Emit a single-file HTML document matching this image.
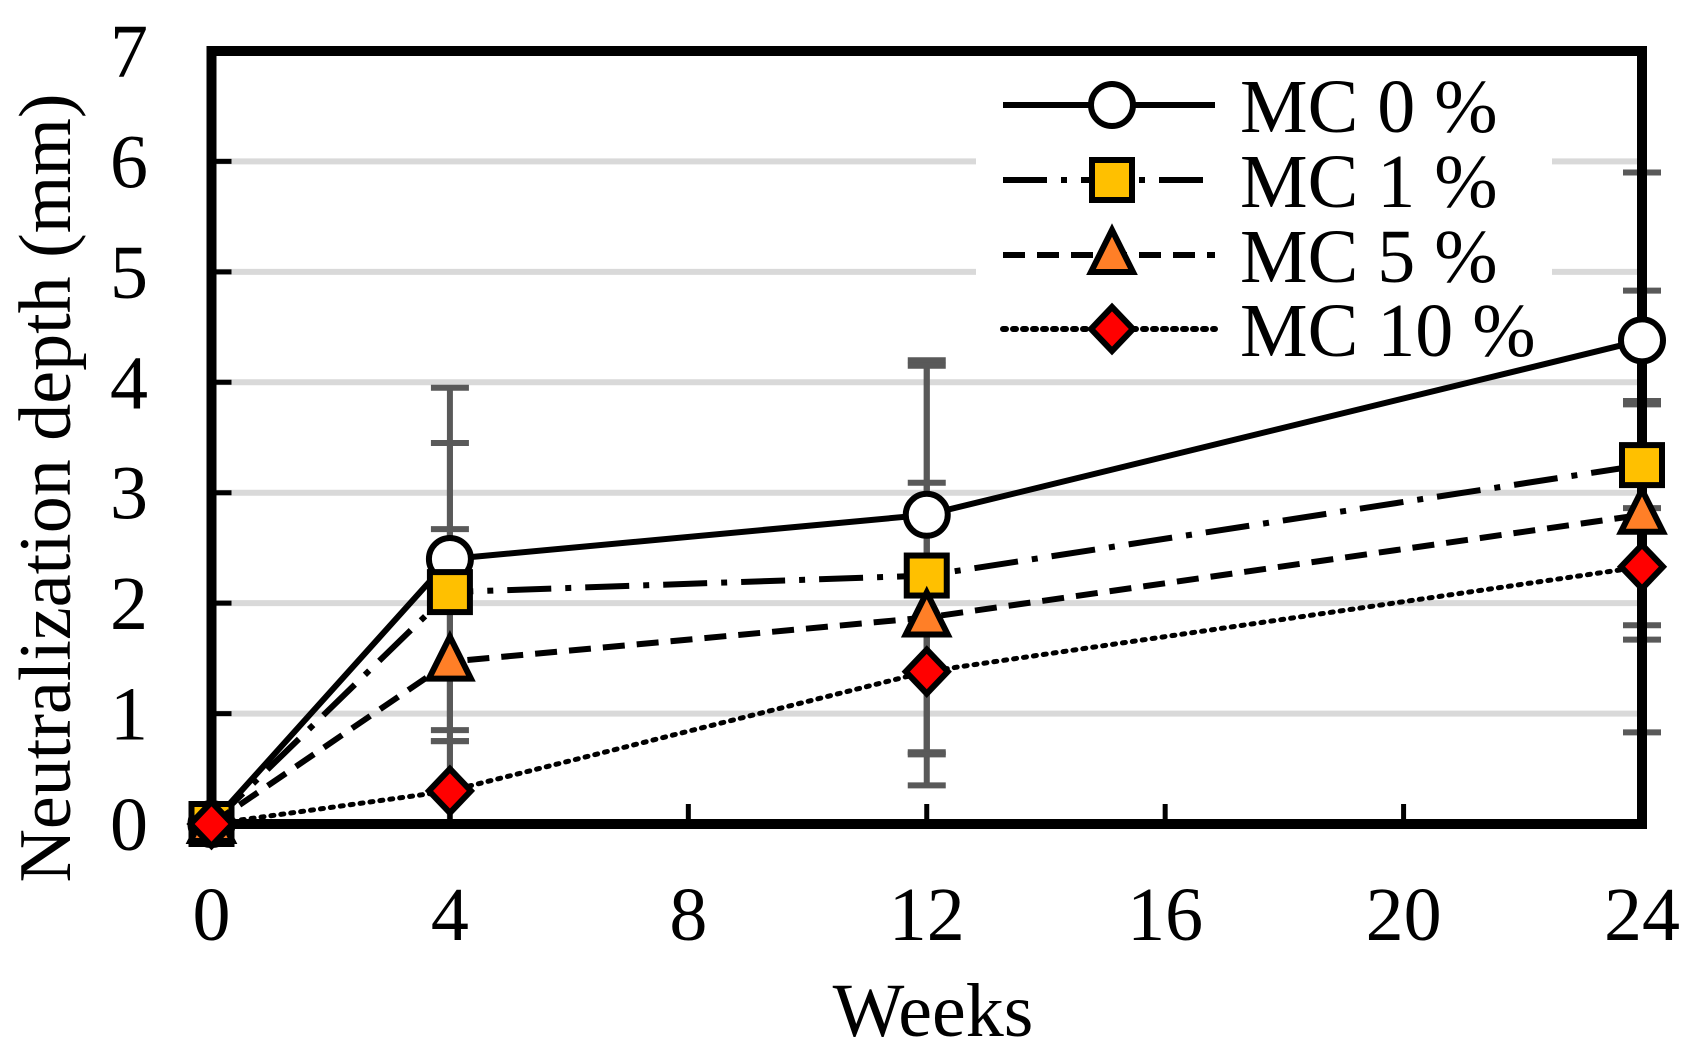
<!DOCTYPE html>
<html><head><meta charset="utf-8"><style>
html,body{margin:0;padding:0;background:#fff;}
svg{display:block;font-family:"Liberation Serif",serif;}
</style></head><body>
<svg id="chart" width="1692" height="1064" viewBox="0 0 1692 1064" xmlns="http://www.w3.org/2000/svg"></svg>
<script>
const weeks = [0, 4, 12, 24];
const seriesNames = ["MC 0 %", "MC 1 %", "MC 5 %", "MC 10 %"];
const mc0 = [0, 2.4, 2.8, 4.38];
const mc1 = [0, 2.1, 2.25, 3.25];
const mc5 = [0, 1.47, 1.87, 2.8];
const mc10 = [0, 0.3, 1.38, 2.33];
const err0 = [0, 1.55, 1.4, 1.52];
const err1 = [0, 1.35, 1.9, 1.58];
const err5 = [0, 1.2, 1.22, 1.0];
const err10 = [0, 0.45, 0.75, 1.5];
const xTicks = [0, 4, 8, 12, 16, 20, 24];
const yTicks = [0, 1, 2, 3, 4, 5, 6, 7];

const NS = "http://www.w3.org/2000/svg";
const svg = document.getElementById('chart');
const L = 211.5, R = 1642, T = 51, B = 824;
const xs = w => L + (w - 0) / 24 * (R - L);
const ys = v => B - v / 7 * (B - T);
function mk(tag, attrs, parent) {
  const e = document.createElementNS(NS, tag);
  for (const k in attrs) e.setAttribute(k, attrs[k]);
  (parent || svg).appendChild(e);
  return e;
}
yTicks.forEach(v => {
  if (v === 0 || v === 7) return;
  const g = mk('line', {x1: L, x2: R, y1: ys(v), y2: ys(v), stroke: '#d9d9d9', 'stroke-width': 6});
  
  
});
const lb = mk('rect', {x: 976, y: 62, width: 576, height: 300, fill: '#fff'});


const allVals = [mc0, mc1, mc5, mc10];
const allErr = [err0, err1, err5, err10];
allVals.forEach((vals, s) => {
  vals.forEach((v, i) => {
    const e = allErr[s][i];
    if (!e) return;
    const x = xs(weeks[i]);
    const g = mk('g', {stroke: '#595959', 'stroke-width': 6});
    
    
    const lo = Math.max(0, v - e), hi = v + e;
    mk('line', {x1: x, x2: x, y1: ys(lo), y2: ys(hi)}, g);
    mk('line', {x1: x - 19, x2: x + 19, y1: ys(hi), y2: ys(hi)}, g);
    mk('line', {x1: x - 19, x2: x + 19, y1: ys(lo), y2: ys(lo)}, g);
  });
});
const fr = mk('rect', {x: L, y: T, width: R - L, height: B - T, fill: 'none', stroke: '#000', 'stroke-width': 10});


xTicks.forEach(w => {
  const x = xs(w);
  if (w > 0 && w < 24) {
    const t = mk('line', {x1: x, x2: x, y1: B, y2: B - 20, stroke: '#000', 'stroke-width': 5});
    
    
  }
  const tx = mk('text', {x: x, y: 940, 'font-size': 76, 'text-anchor': 'middle'});
  tx.textContent = w;
  
  
});
yTicks.forEach(v => {
  const y = ys(v);
  if (v > 0 && v < 7) {
    const t = mk('line', {x1: L, x2: L + 20, y1: y, y2: y, stroke: '#000', 'stroke-width': 5});
    
    
  }
  const tx = mk('text', {x: 148, y: y + 26, 'font-size': 76, 'text-anchor': 'end'});
  tx.textContent = v;
  
  
});
const xt = mk('text', {x: 933, y: 1036, 'font-size': 76, 'text-anchor': 'middle'});
xt.textContent = 'Weeks';


const yt = mk('text', {x: 0, y: 0, 'font-size': 74, 'text-anchor': 'middle', transform: 'translate(70,488) rotate(-90)'});
yt.textContent = 'Neutralization depth (mm)';



const dashes = ['none', '44 14 6 14', '22 12', '3 7'];
const dotCap = ['butt', 'butt', 'butt', 'round'];
function marker(s, x, y, parent) {
  const st = {stroke: '#000', 'stroke-width': 6};
  if (s === 0) return mk('circle', Object.assign({cx: x, cy: y, r: 21, fill: '#fff'}, st), parent);
  if (s === 1) return mk('rect', Object.assign({x: x - 20, y: y - 20, width: 40, height: 40, fill: '#ffc000'}, st), parent);
  if (s === 2) return mk('polygon', Object.assign({points: `${x},${y-25} ${x+21},${y+17} ${x-21},${y+17}`, fill: '#ff7f27'}, st), parent);
  return mk('polygon', Object.assign({points: `${x},${y-22} ${x+21},${y} ${x},${y+22} ${x-21},${y}`, fill: '#ff0000'}, st), parent);
}
[0, 1, 2, 3].forEach(s => {
  const vals = allVals[s];
  const g = mk('g', {});
  
  
  const pts = vals.map((v, i) => xs(weeks[i]) + ',' + ys(v)).join(' ');
  const pl = mk('polyline', {points: pts, fill: 'none', stroke: '#000', 'stroke-width': s === 3 ? 5 : 6, 'stroke-dasharray': dashes[s], 'stroke-linecap': dotCap[s]}, g);
  
  
  vals.forEach((v, i) => {
    const m = marker(s, xs(weeks[i]), ys(v), g);
    
    
  });
});
const legY = [105, 180, 255, 329];
seriesNames.forEach((n, s) => {
  const g = mk('g', {});
  
  
  const y = legY[s];
  mk('line', {x1: 1003, x2: 1215, y1: y, y2: y, stroke: '#000', 'stroke-width': 6, 'stroke-dasharray': dashes[s], 'stroke-linecap': dotCap[s]}, g);
  marker(s, 1112, y, g);
  const t = mk('text', {x: 1240, y: y + 27, 'font-size': 76}, g);
  t.textContent = n;
});
</script>
</body></html>
